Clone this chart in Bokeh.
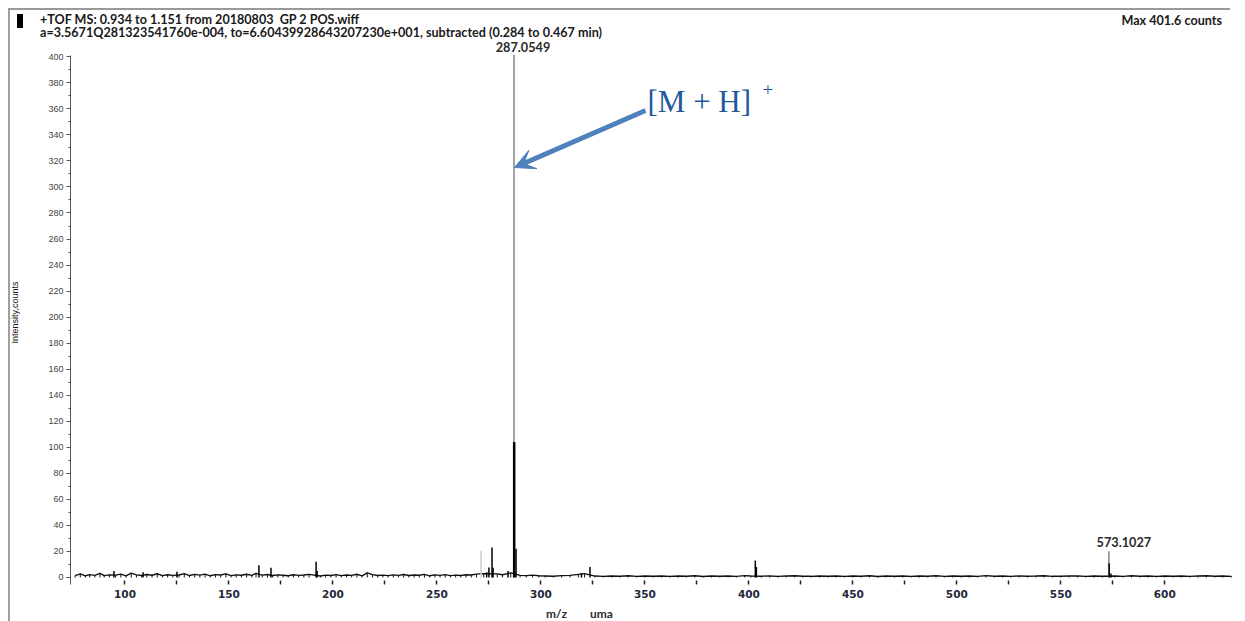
import math
from bokeh.plotting import figure
from bokeh.layouts import column
from bokeh.models import (Label, Arrow, VeeHead, FixedTicker, Div,
                          SingleIntervalTicker, Range1d, CustomJSTickFormatter)
from bokeh.embed import file_html
from bokeh.resources import INLINE

# ---------------- data ----------------
noise_mz = [
    76, 78.5, 81, 83, 85.5, 88, 90, 92.5, 95.5, 98,
    100.5, 103, 105.5, 108, 110.5, 113, 115.5, 118, 120.5, 123,
    126, 128.5, 131, 133.5, 136, 138.5, 141, 143.5, 146, 148.5,
    151, 153.5, 156, 158.5, 161, 163, 166, 168.5, 171, 173.5,
    176, 178.5, 181, 183.5, 186, 188.5, 194, 196.5, 199, 201.5,
    204, 206.5, 209, 211.5, 214, 216.5, 219, 221.5, 224, 226.5,
    229, 231.5, 234, 236.5, 239, 241.5, 244, 246.5, 249, 251.5,
    254, 256.5, 259, 261.5, 264, 266.5, 269, 272.5, 279, 281.5,
    285.5, 290, 293, 296, 299, 302, 306, 310, 314, 318,
    321, 326, 330, 334, 338, 342, 346, 350, 354, 358,
    362, 366, 370, 374, 378, 382, 386, 390, 394, 398,
    401, 406, 410, 414, 418, 422, 426, 430, 434, 438,
    442, 446, 450, 454, 458, 462, 466, 470, 474, 478,
    482, 486, 490, 494, 498, 502, 506, 510, 514, 518,
    522, 526, 530, 534, 538, 542, 546, 550, 554, 558,
    562, 566, 570, 576, 580, 584, 588, 592, 596, 600,
    604, 608, 612, 616, 620, 624, 628, 632]
noise_int = [
    1.5, 2.8, 1.2, 2.2, 1.6, 3.1, 1.4, 2.0, 1.8, 2.6,
    1.3, 3.4, 2.0, 1.5, 2.3, 1.7, 2.9, 1.4, 2.1, 1.6,
    1.9, 3.0, 1.5, 2.4, 1.8, 2.6, 1.3, 2.2, 1.9, 2.8,
    1.4, 2.0, 1.7, 2.5, 1.6, 3.2, 1.8, 2.3, 1.5, 2.0,
    1.7, 1.3, 2.1, 1.6, 1.9, 2.4, 1.2, 1.8, 1.5, 2.2,
    1.4, 1.9, 1.6, 2.5, 1.3, 3.6, 2.2, 1.5, 1.8, 1.4,
    2.0, 1.6, 2.3, 1.5, 1.9, 1.7, 2.4, 1.3, 2.0, 1.6,
    2.2, 1.4, 1.8, 1.5, 2.1, 1.9, 2.6, 3.0, 2.8, 2.1,
    3.5, 1.6, 1.4, 1.8, 1.3, 1.2, 1.0, 1.4, 1.6, 2.4,
    3.0, 1.1, 0.9, 1.2, 1.0, 1.3, 0.9, 1.1, 1.0, 1.2,
    0.9, 1.1, 1.0, 1.3, 0.8, 1.1, 1.0, 1.2, 0.9, 1.4,
    1.1, 1.0, 1.2, 0.9, 1.1, 1.3, 1.0, 0.9, 1.1, 1.0,
    1.2, 0.9, 1.1, 1.0, 1.3, 0.8, 1.1, 1.0, 1.2, 0.9,
    1.1, 1.0, 1.3, 0.9, 1.2, 1.0, 1.1, 0.9, 1.4, 1.0,
    1.1, 0.9, 1.2, 1.0, 1.1, 1.3, 0.9, 1.0, 1.2, 1.1,
    0.9, 1.2, 1.0, 1.1, 0.9, 1.3, 1.0, 1.2, 0.9, 1.1,
    1.0, 1.2, 0.9, 1.1, 1.3, 1.0, 1.1, 0.9]

peak_mz = [94.7, 108.7, 125.0, 164.4, 170.2, 191.9, 192.4, 273.9, 275.0, 276.5,
           277.0, 284.2, 287.15, 288.05, 319.5, 323.6, 403.1, 403.6, 573.25, 574.1]
peak_int = [5.0, 4.0, 4.5, 9.5, 7.5, 12.0, 5.0, 4.0, 7.7, 23.0,
            7.5, 5.0, 104.0, 22.0, 3.5, 8.0, 13.0, 8.0, 11.0, 3.0]

gray_mz = [271.2, 287.0549, 573.1027]
gray_int = [20.5, 401.6, 20.2]
gray_col = ["#cfcfcf", "#8c8c8c", "#8c8c8c"]

label_mz = [287.0549, 573.1027]
label_text = ["287.0549", "573.1027"]

x_ticks = [100, 125, 150, 175, 200, 225, 250, 275, 300, 325, 350, 375,
           400, 425, 450, 475, 500, 525, 550, 575, 600]

header1 = "+TOF MS: 0.934 to 1.151 from 20180803  GP 2 POS.wiff"
header2 = ("a=3.5671Q281323541760e-004, to=6.60439928643207230e+001, "
           "subtracted (0.284 to 0.467 min)")
max_text = "Max 401.6 counts"

# ---------------- geometry ----------------
W = 1245
HEAD_H, FOOT_H = 40, 16
H = 621 - HEAD_H - FOOT_H            # figure height
ML, MR, MT, MB = 70, 5, 0, 21
FW, FH = W - ML - MR, H - MT - MB
KX, KY = 2.0796, 1.3018
X0 = 73.8
X1 = X0 + FW / KX
Y0 = -5.38
Y1 = Y0 + FH / KY
PAGE_L = ML
PAGE_B = HEAD_H + H - MB


def px2x(xp):
    return X0 + (xp - PAGE_L) / KX


def px2y(yp):
    return Y0 + (PAGE_B - yp) / KY


p = figure(width=W, height=H, output_backend="svg", toolbar_location=None,
           x_range=Range1d(X0, X1), y_range=Range1d(Y0, Y1),
           min_border_left=ML, min_border_right=MR, min_border_top=MT,
           min_border_bottom=MB, background_fill_color="white",
           border_fill_color=None, margin=(0, 0, 0, 0))
p.outline_line_color = None
p.xgrid.visible = False
p.ygrid.visible = False

# x axis
xa = p.xaxis[0]
xa.ticker = FixedTicker(ticks=x_ticks, minor_ticks=[])
xa.formatter = CustomJSTickFormatter(code="return (tick % 50 == 0) ? tick.toFixed(0) : '';")
xa.axis_line_color = None
xa.major_tick_in = 4
xa.major_tick_out = 0
xa.minor_tick_in = 0
xa.minor_tick_out = 0
xa.major_tick_line_color = "#222222"
xa.major_tick_line_width = 1.5
xa.major_label_standoff = 5
xa.major_label_text_font = "DejaVu Sans"
xa.major_label_text_font_style = "bold"
xa.major_label_text_font_size = "10.5px"
xa.major_label_text_color = "#22283a"

# y axis
ya = p.yaxis[0]
ya.ticker = SingleIntervalTicker(interval=20, num_minor_ticks=2)
ya.bounds = (Y0, 401.0)
ya.axis_line_color = "#555555"
ya.axis_line_width = 1
ya.major_tick_in = 0
ya.major_tick_out = 4
ya.minor_tick_in = 0
ya.minor_tick_out = 2
ya.major_tick_line_color = "#555555"
ya.minor_tick_line_color = "#555555"
ya.major_label_standoff = 3
ya.major_label_text_font = "Liberation Sans"
ya.major_label_text_font_size = "9px"
ya.major_label_text_color = "#444444"
ya.axis_label = "Intensity,counts"
ya.axis_label_text_font = "Liberation Sans"
ya.axis_label_text_font_size = "9px"
ya.axis_label_text_font_style = "normal"
ya.axis_label_text_color = "#111111"
ya.axis_label_standoff = 25

# spectrum
p.line(noise_mz, noise_int, line_color="#111111", line_width=1.4)
p.segment(x0=noise_mz, y0=[0] * len(noise_mz), x1=noise_mz, y1=noise_int,
          line_color="#111111", line_width=1)
p.segment(x0=gray_mz, y0=[0] * len(gray_mz), x1=gray_mz, y1=gray_int,
          line_color=gray_col, line_width=1.6)
p.segment(x0=peak_mz, y0=[0] * len(peak_mz), x1=peak_mz, y1=peak_int,
          line_color="#000000", line_width=[2.5 if v > 50 else 1.5 for v in peak_int])

# peak labels
offs = [(9, 46), (15, 541)]
for mz, t, (dx, yp) in zip(label_mz, label_text, offs):
    p.add_layout(Label(x=mz + dx / KX, y=px2y(yp), text=t, text_align="center",
                       text_baseline="middle", text_font="Lato", text_font_style="bold",
                       text_font_size="12.7px", text_color="#2b2b2b"))

# [M + H]+ annotation with arrow
blue = "#4f81bd"
p.add_layout(Arrow(end=VeeHead(size=20, fill_color=blue, line_color=blue),
                   x_start=px2x(645), y_start=px2y(110), x_end=px2x(514), y_end=px2y(167),
                   line_color=blue, line_width=5))
p.add_layout(Label(x=px2x(647), y=px2y(101), text="[M + H]", text_align="left",
                   text_baseline="middle", text_font="Liberation Serif",
                   text_font_size="31px", text_color="#1f5a9c"))
p.add_layout(Label(x=px2x(762), y=px2y(89), text="+", text_align="left",
                   text_baseline="middle", text_font="Liberation Serif",
                   text_font_size="19px", text_color="#1f5a9c"))

# ---------------- header / footer ----------------
txt = "font-family:Lato,sans-serif;font-weight:bold;font-size:12.6px;color:#1a1a1a;" \
      "line-height:14px;white-space:pre;position:absolute;margin:0;padding:0;"
head_html = (
    f'<div style="position:relative;width:{W}px;height:{HEAD_H}px;margin:0;padding:0;">'
    '<div style="position:absolute;left:17px;top:14px;width:6px;height:14px;background:#000000"></div>'
    f'<div style="{txt}left:40px;top:13px;">{header1}</div>'
    f'<div style="{txt}left:40px;top:26px;">{header2}</div>'
    f'<div style="{txt}right:23px;top:14px;">{max_text}</div>'
    '</div>'
)
head_bg = ("linear-gradient(#999999, #999999) 8px 8px / 1222px 2px no-repeat, "
           "linear-gradient(#a0a0a0, #a0a0a0) 8px 8px / 2px 40px no-repeat, #ffffff")
head = Div(text=head_html, width=W, height=HEAD_H, margin=(0, 0, 0, 0),
           styles={"background": head_bg})

ftxt = "font-family:Lato,sans-serif;font-weight:bold;font-size:12px;color:#2b2b2b;" \
       "line-height:14px;white-space:pre;position:absolute;"
foot_html = (
    f'<div style="position:relative;width:{W}px;height:{FOOT_H}px;">'
    f'<div style="{ftxt}left:546px;top:2px;">m/z</div>'
    f'<div style="{ftxt}left:590px;top:2px;">uma</div>'
    '</div>'
)
foot = Div(text=foot_html, width=W, height=FOOT_H, margin=(0, 0, 0, 0))

frame_bg = ("linear-gradient(#a0a0a0, #a0a0a0) 8px 8px / 2px 613px no-repeat, #ffffff")
page = column(head, p, foot, spacing=0, margin=(0, 0, 0, 0),
              styles={"background": frame_bg})

open("out.html", "w").write(file_html(page, INLINE))
